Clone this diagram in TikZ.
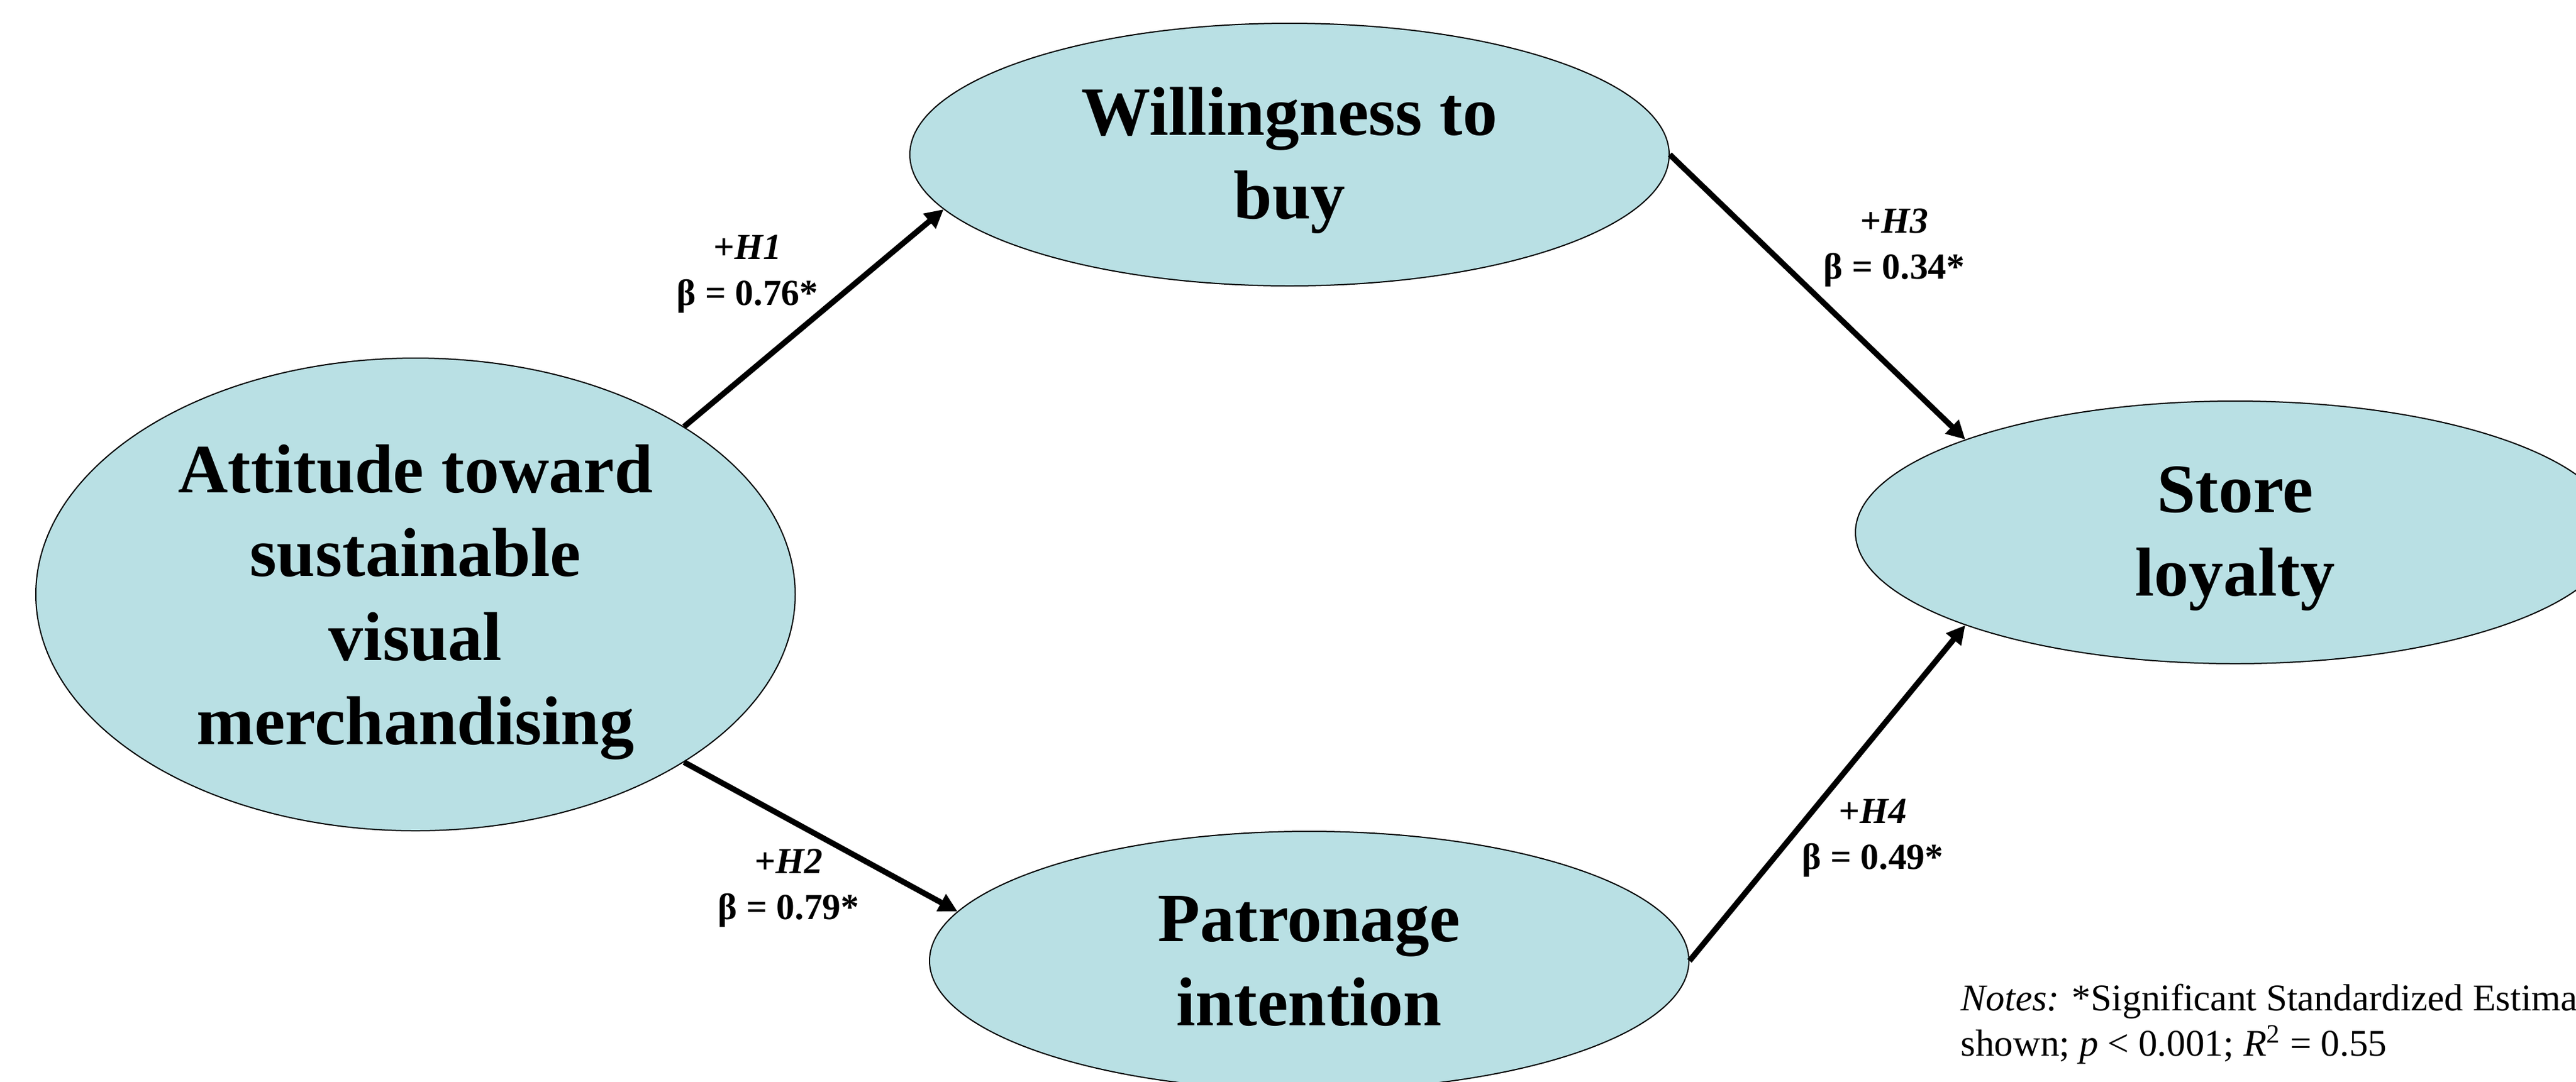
\documentclass[tikz,border=0pt]{standalone}
\usepackage{fontspec}
\setmainfont{Liberation Serif}
\usetikzlibrary{shapes.geometric,arrows.meta,positioning}
\definecolor{bubble}{RGB}{185,224,228}

\begin{document}
\begin{tikzpicture}[%
    construct/.style={
        ellipse,
        draw,
        line width=0.2mm,
        fill=bubble,
        inner sep=0pt,
        minimum width=12.72cm,
        align=center,
        font=\fontsize{33}{40}\selectfont\bfseries
        },
    hypoarrow/.style={
        line width=0.95mm,
        -{Triangle[length=3.1mm,width=3.1mm]}
        },
    hypolabel/.style={
        align=center,
        inner sep=0pt,
        font=\fontsize{17.5}{22}\selectfont\bfseries
        },
    notes/.style={
        align=left,
        anchor=north west,
        inner sep=0pt,
        font=\fontsize{18}{21.6}\selectfont
        }
]
\useasboundingbox (0,0) rectangle (43.15,-18.12);

% constructs
\node[construct, minimum height=7.92cm, text depth=-13pt] (attitude) at (6.96,-9.96) {Attitude toward\\sustainable\\visual\\merchandising};
\node[construct, minimum height=4.40cm, text depth=1.5pt] (willing) at (21.60,-2.59) {Willingness to\\buy};
\node[construct, minimum height=4.34cm, text depth=-4.8pt] (patron) at (21.93,-16.10) {Patronage\\intention};
\node[construct, minimum height=4.40cm, text depth=1pt] (loyalty) at (37.44,-8.92) {Store\\loyalty};

% hypotheses
\draw[hypoarrow] (attitude.32.4) -- (willing.189.4);
\draw[hypoarrow] (attitude.-32.2) -- (patron.172.3);
\draw[hypoarrow] (willing.0) -- (loyalty.161.2);
\draw[hypoarrow] (patron.0) -- (loyalty.199);

\node[hypolabel] (h1) at (12.52,-4.59) {+\textit{H1}\\β = 0.76*};
\node[hypolabel] (h2) at (13.21,-14.88) {+\textit{H2}\\β = 0.79*};
\node[hypolabel] (h3) at (31.73,-4.15) {+\textit{H3}\\β = 0.34*};
\node[hypolabel] (h4) at (31.37,-14.04) {+\textit{H4}\\β = 0.49*};

\node[notes] (note) at (32.84,-16.48) {\textit{Notes:} *Significant Standardized Estimates\\shown; \textit{p} < 0.001; \textit{R}\textsuperscript{2} = 0.55};
\end{tikzpicture}
\end{document}
